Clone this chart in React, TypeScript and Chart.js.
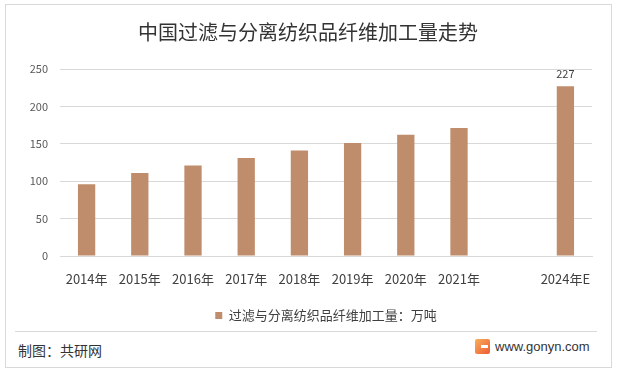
import React, { useEffect, useRef } from "react";
import { Chart, registerables } from "chart.js";

Chart.register(...registerables);

const chartTitle = "中国过滤与分离纺织品纤维加工量走势";
const seriesName = "过滤与分离纺织品纤维加工量：万吨";
const categories = ["2014年", "2015年", "2016年", "2017年", "2018年", "2019年", "2020年", "2021年", "", "2024年E"];
const values: (number | null)[] = [96, 111, 121, 131, 141, 151, 162, 171, null, 227];
const yTickValues = [0, 50, 100, 150, 200, 250];
const labeledCategories = ["2024年E"];
const footerSource = "制图：共研网";
const footerSite = "www.gonyn.com";

const CJK = "'Microsoft YaHei', 'Noto Sans CJK SC', sans-serif";
const BAR_COLOR = "#BF8D6B";
const GRID = "#D9D9D9";

const valueLabelPlugin = {
  id: "valueLabel",
  afterDatasetsDraw(chart: any) {
    const meta = chart.getDatasetMeta(0);
    const ctx = chart.ctx;
    ctx.save();
    ctx.font = `11px ${CJK}`;
    ctx.fillStyle = "#404040";
    ctx.textAlign = "center";
    ctx.textBaseline = "bottom";
    meta.data.forEach((el: any, i: number) => {
      if (!labeledCategories.includes(categories[i])) return;
      const v = values[i];
      if (v == null) return;
      ctx.fillText(String(v), el.x, el.y - 7);
    });
    ctx.restore();
  },
};

function BarChart() {
  const ref = useRef<HTMLCanvasElement>(null);
  useEffect(() => {
    if (!ref.current) return;
    const chart = new Chart(ref.current, {
      type: "bar",
      data: {
        labels: categories,
        datasets: [
          {
            label: seriesName,
            data: values,
            backgroundColor: BAR_COLOR,
            borderWidth: 0,
            barPercentage: 0.325,
            categoryPercentage: 1,
          },
        ],
      },
      options: {
        animation: false,
        responsive: false,
        maintainAspectRatio: false,
        devicePixelRatio: 1,
        layout: { padding: { left: 12, right: 13, top: 0, bottom: 0 } },
        plugins: {
          title: {
            display: true,
            text: chartTitle,
            color: "#333333",
            font: { family: CJK, size: 20, weight: "normal" },
            padding: { top: 20, bottom: 25 },
          },
          legend: {
            position: "bottom",
            fullSize: false,
            labels: {
              boxWidth: 7,
              boxHeight: 7,
              color: "#404040",
              font: { family: CJK, size: 13 },
              padding: 10,
            },
          },
          tooltip: { enabled: false },
        },
        scales: {
          x: {
            grid: { display: false, drawTicks: false },
            border: { display: true, color: GRID },
            ticks: {
              color: "#404040",
              font: { family: CJK, size: 13 },
              padding: 15,
              autoSkip: false,
              maxRotation: 0,
            },
            afterFit: (s: any) => {
              s.height = 43;
            },
          },
          y: {
            min: 0,
            max: 250,
            afterBuildTicks: (s: any) => {
              s.ticks = yTickValues.map((v) => ({ value: v }));
            },
            grid: { color: GRID, drawTicks: false },
            border: { display: false },
            ticks: {
              color: "#595959",
              font: { family: CJK, size: 11 },
              padding: 12,
            },
            afterFit: (s: any) => {
              s.width = 48;
            },
          },
          yRight: {
            position: "right",
            min: 0,
            max: 250,
            grid: { display: false, drawTicks: false },
            border: { display: false },
            ticks: { display: false },
            afterFit: (s: any) => {
              s.width = 12;
            },
          },
        },
      },
      plugins: [valueLabelPlugin],
    });
    return () => chart.destroy();
  }, []);
  return <canvas ref={ref} width={617} height={332} style={{ position: "absolute", left: 0, top: 0, width: 617, height: 332 }} />;
}

export default function App() {
  return (
    <div style={{ position: "fixed", left: 0, top: 0, width: 617, height: 372, background: "#fff", overflow: "hidden" }}>
      <div style={{ position: "absolute", left: 5, top: 4, width: 605, height: 362, border: `1px solid ${GRID}` }} />
      <BarChart />
      <div style={{ position: "absolute", left: 15, top: 331, width: 582, height: 1, background: GRID }} />
      <div style={{ position: "absolute", left: 18, top: 340, fontFamily: CJK, fontSize: 14, lineHeight: "20px", color: "#333" }}>
        {footerSource}
      </div>
      <div style={{ position: "absolute", left: 475, top: 339, width: 15, height: 15, borderRadius: 2, background: "linear-gradient(135deg, #F7B05A, #EE5A35)" }}>
        <div style={{ position: "absolute", left: 6, top: 6, width: 7, height: 3, background: "#fff" }} />
      </div>
      <div style={{ position: "absolute", left: 495, top: 338, fontFamily: "'Liberation Sans', Arial, sans-serif", fontSize: 13, lineHeight: "18px", color: "#333" }}>
        {footerSite}
      </div>
    </div>
  );
}
